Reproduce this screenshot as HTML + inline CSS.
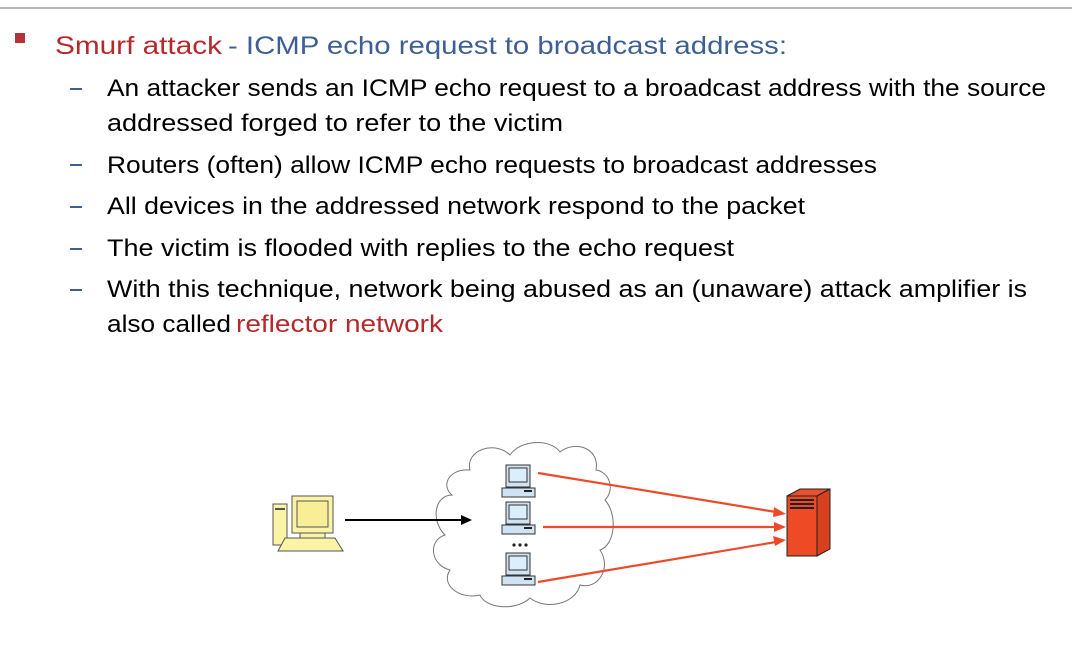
<!DOCTYPE html>
<html><head><meta charset="utf-8"><style>
html,body{margin:0;padding:0;background:#fff;width:1072px;height:654px;overflow:hidden}
svg{display:block}
text{font-family:"Liberation Sans",sans-serif}
</style></head><body>
<svg width="1072" height="654" viewBox="0 0 1072 654">
<rect x="0" y="7" width="1072" height="2" fill="#b8b8b8"/>
<rect x="15" y="33" width="10" height="10" fill="#b5323a"/>
<text x="55" y="54" font-size="25" fill="#b5292d" textLength="167" lengthAdjust="spacingAndGlyphs">Smurf attack</text>
<text x="228" y="54" font-size="25" fill="#3d5f94" textLength="559" lengthAdjust="spacingAndGlyphs">- ICMP echo request to broadcast address:</text>
<g fill="#3d5f94">
<rect x="70" y="88" width="12" height="2"/><rect x="70" y="164" width="12" height="2"/><rect x="70" y="206" width="12" height="2"/><rect x="70" y="248" width="12" height="2"/><rect x="70" y="289" width="12" height="2"/>
</g>
<g font-size="24" fill="#000">
<text x="107" y="96" textLength="939" lengthAdjust="spacingAndGlyphs">An attacker sends an ICMP echo request to a broadcast address with the source</text>
<text x="107" y="131" textLength="456" lengthAdjust="spacingAndGlyphs">addressed forged to refer to the victim</text>
<text x="107" y="173" textLength="770" lengthAdjust="spacingAndGlyphs">Routers (often) allow ICMP echo requests to broadcast addresses</text>
<text x="107" y="214" textLength="698" lengthAdjust="spacingAndGlyphs">All devices in the addressed network respond to the packet</text>
<text x="107" y="256" textLength="627" lengthAdjust="spacingAndGlyphs">The victim is flooded with replies to the echo request</text>
<text x="107" y="297" textLength="920" lengthAdjust="spacingAndGlyphs">With this technique, network being abused as an (unaware) attack amplifier is</text>
<text x="107" y="332" textLength="124" lengthAdjust="spacingAndGlyphs">also called</text>
<text x="236" y="332" textLength="207" lengthAdjust="spacingAndGlyphs" fill="#b5292d">reflector network</text>
</g>
<!-- cloud -->
<path d="M470 470 C465 450 495 440 510 455 C520 440 550 438 560 452 C575 440 600 448 596 470 C610 472 615 490 605 500 C618 515 615 545 600 550 C612 568 598 590 580 585 C575 605 545 610 530 598 C515 612 485 608 480 595 C460 600 440 585 450 570 C430 565 428 540 445 535 C430 520 435 495 452 495 C440 485 450 468 470 470 Z" fill="#fff" stroke="#777" stroke-width="1"/>
<!-- attacker pc -->
<g stroke="#555" stroke-width="1" fill="#fbf4a6">
<rect x="273" y="504" width="14" height="41"/>
<rect x="292" y="496" width="41" height="37"/>
<rect x="297" y="501" width="31" height="26" fill="#f7ee95"/>
<rect x="300" y="533" width="25" height="5"/>
<path d="M285 538 L335 538 L343 551 L278 551 Z"/>
</g>
<rect x="275" y="508" width="10" height="2" fill="#555"/>
<!-- black arrow -->
<line x1="345" y1="520" x2="463" y2="520" stroke="#000" stroke-width="2"/>
<path d="M472 520 L461 515 L461 525 Z" fill="#000"/>
<!-- small pcs -->
<g stroke="#333" stroke-width="1" fill="#cfe3f3">
<rect x="506" y="465" width="24" height="22"/><rect x="509" y="468" width="18" height="14" fill="#dbeefb"/><rect x="502" y="488" width="33" height="9"/>
<rect x="506" y="502" width="24" height="22"/><rect x="509" y="505" width="18" height="14" fill="#dbeefb"/><rect x="502" y="525" width="33" height="9"/>
<rect x="506" y="553" width="24" height="22"/><rect x="509" y="556" width="18" height="14" fill="#dbeefb"/><rect x="502" y="576" width="33" height="9"/>
</g>
<g fill="#222"><rect x="524" y="490" width="8" height="2"/><rect x="524" y="527" width="8" height="2"/><rect x="524" y="578" width="8" height="2"/>
<circle cx="514" cy="545" r="1.6"/><circle cx="520" cy="545" r="1.6"/><circle cx="526" cy="545" r="1.6"/></g>
<!-- red arrows -->
<g stroke="#ee4a2a" stroke-width="2.2">
<line x1="538" y1="473" x2="776" y2="512"/>
<line x1="543" y1="527" x2="776" y2="527"/>
<line x1="538" y1="582" x2="776" y2="542"/>
</g>
<g fill="#ee4a2a">
<path d="M786 514 L774 507 L773 517 Z"/>
<path d="M786 527 L774 522 L774 532 Z"/>
<path d="M786 540 L773 536 L775 546 Z"/>
</g>
<!-- server -->
<g stroke="#222" stroke-width="1" fill="#ee4a26">
<path d="M787 496 L817 496 L830 489 L800 489 Z" fill="#e8502e"/>
<path d="M817 496 L830 489 L830 549 L817 556 Z" fill="#d8401f"/>
<rect x="787" y="496" width="30" height="60"/>
</g>
<g fill="#222"><rect x="790" y="499" width="24" height="2"/><rect x="790" y="503" width="24" height="2"/><rect x="790" y="507" width="24" height="2"/></g>
</svg>
</body></html>
